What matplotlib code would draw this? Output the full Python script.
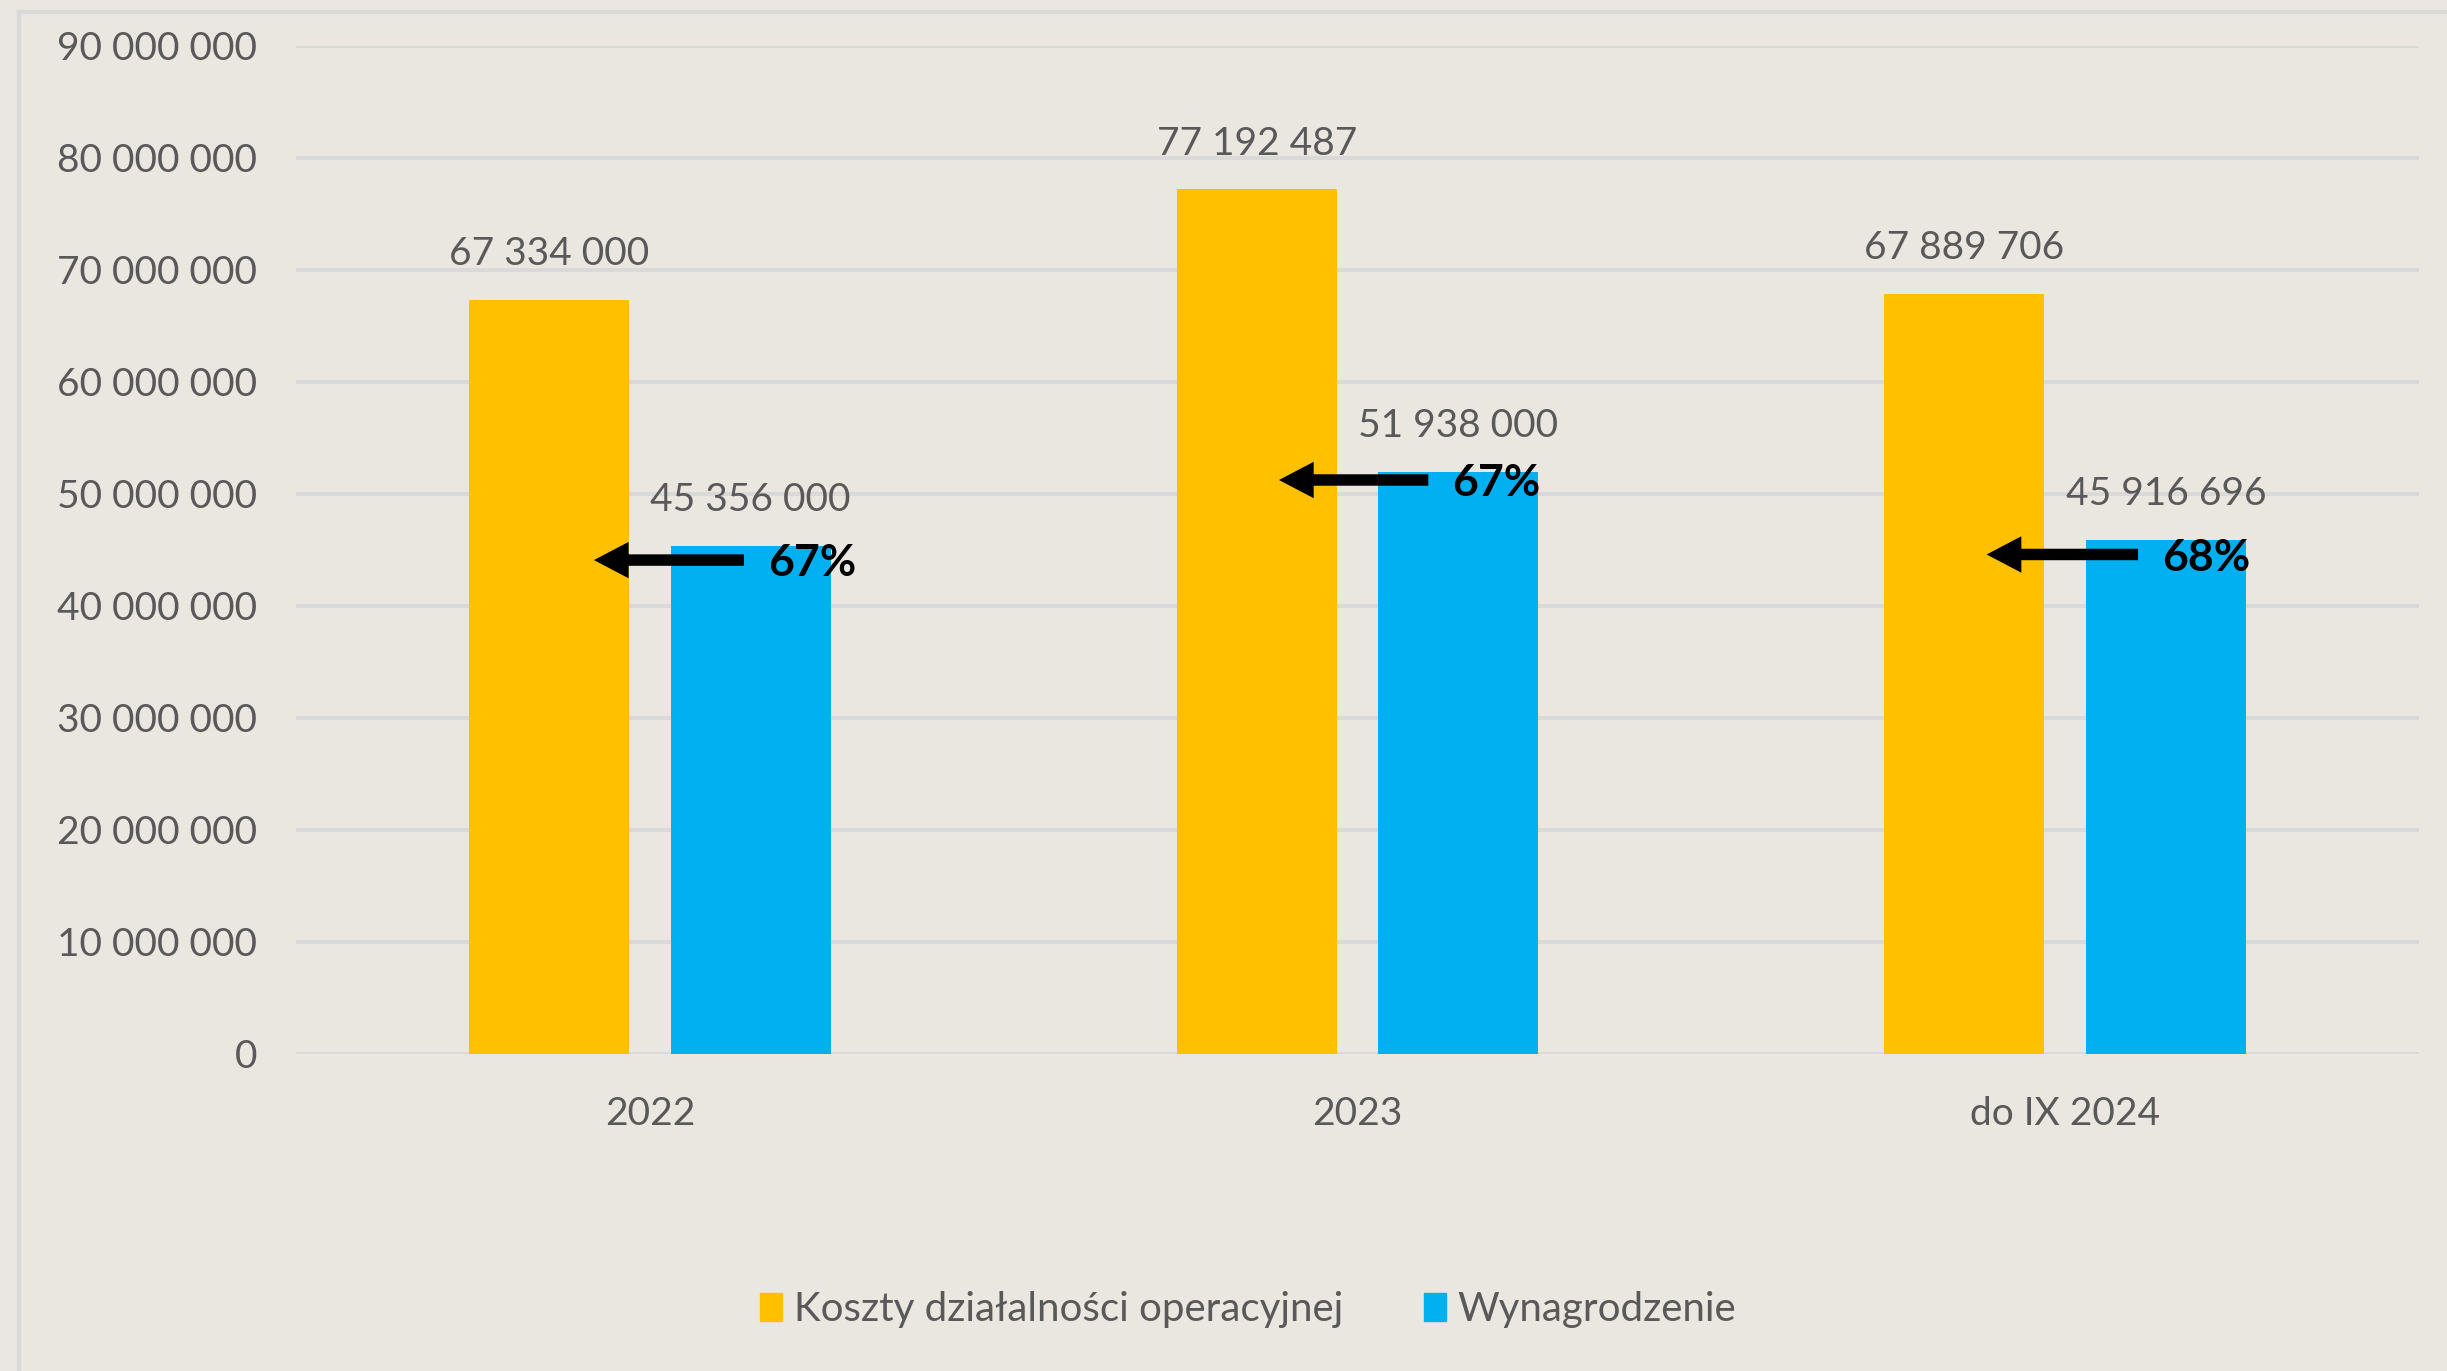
import numpy as np
import matplotlib
matplotlib.use("Agg")
import matplotlib.pyplot as plt
from matplotlib.patches import Patch
from matplotlib.lines import Line2D

plt.rcParams["font.family"] = ["Lato", "DejaVu Sans"]

# data
categories = ["2022", "2023", "do IX 2024"]
koszty = [67334000, 77192487, 67889706]
wynagrodzenie = [45356000, 51938000, 45916696]
series_names = ["Koszty działalności operacyjnej", "Wynagrodzenie"]
arrow_y = [44.1e6, 51.25e6, 44.6e6]

BG = "#EAE6E0"
ORANGE = "#FFC000"
BLUE = "#00B0F0"
TXT = "#595959"
GRID = "#D9D9D9"


def fmt(v):
    return f"{v:,.0f}".replace(",", " ")


fig = plt.figure(figsize=(24.47, 13.71), dpi=100)
fig.patch.set_facecolor(BG)
ax = fig.add_axes([296 / 2447, 1 - 1054 / 1371, (2419 - 296) / 2447, (1054 - 46) / 1371])
ax.set_facecolor(BG)

x = np.arange(len(categories))
w = 0.226
off = 0.1425
b1 = ax.bar(x - off, koszty, w, color=ORANGE, zorder=3)
b2 = ax.bar(x + off, wynagrodzenie, w, color=BLUE, zorder=3)

for bars, vals in ((b1, koszty), (b2, wynagrodzenie)):
    for r, v in zip(bars, vals):
        ax.annotate(fmt(v), (r.get_x() + r.get_width() / 2, v),
                    xytext=(0, 33), textcoords="offset points",
                    ha="center", va="center", fontsize=28, color=TXT)

# arrows with percentage share
tip_dx = [-0.079, -0.111, -0.111]
tail_dx = [0.133, 0.100, 0.103]
for i in range(len(categories)):
    pct = wynagrodzenie[i] / koszty[i] * 100
    ax.annotate("", xy=(x[i] + tip_dx[i], arrow_y[i]),
                xytext=(x[i] + tail_dx[i], arrow_y[i]),
                arrowprops=dict(arrowstyle="simple,head_length=1.0,head_width=1.05,tail_width=0.33",
                                mutation_scale=25, fc="black", ec="none",
                                shrinkA=0, shrinkB=0), zorder=5)
    ax.text(x[i] + tail_dx[i] + 0.034, arrow_y[i] - 0.3e6, f"{pct:.0f}%",
            ha="left", va="center", fontsize=32, fontweight="bold",
            color="black", zorder=6)

ax.set_xlim(-0.5, len(categories) - 0.5)
ax.set_ylim(0, 90e6)
ax.set_yticks(np.arange(0, 90e6 + 1, 10e6))
ax.set_yticklabels([fmt(v) for v in np.arange(0, 90e6 + 1, 10e6)])
ax.set_xticks(x)
ax.set_xticklabels(categories)
ax.tick_params(axis="both", length=0, labelsize=28, labelcolor=TXT)
ax.tick_params(axis="y", pad=28)
ax.tick_params(axis="x", pad=30)
ax.grid(axis="y", color=GRID, lw=2.8, zorder=0)
for s in ax.spines.values():
    s.set_visible(False)

# outer chart frame (left and top visible)
fig.add_artist(Line2D([19 / 2447, 19 / 2447], [0, 1 - 12 / 1371], color=GRID, lw=3, transform=fig.transFigure))
fig.add_artist(Line2D([19 / 2447, 1], [1 - 12 / 1371, 1 - 12 / 1371], color=GRID, lw=3, transform=fig.transFigure))

handles = [Patch(color=ORANGE), Patch(color=BLUE)]
fig.legend(handles, series_names, loc="center", bbox_to_anchor=(0.51, 0.045),
           ncol=2, frameon=False, fontsize=29, labelcolor=TXT,
           handlelength=0.55, handleheight=0.7, handletextpad=0.3, columnspacing=2.0)

fig.savefig("out.png", dpi=100, facecolor=BG)
